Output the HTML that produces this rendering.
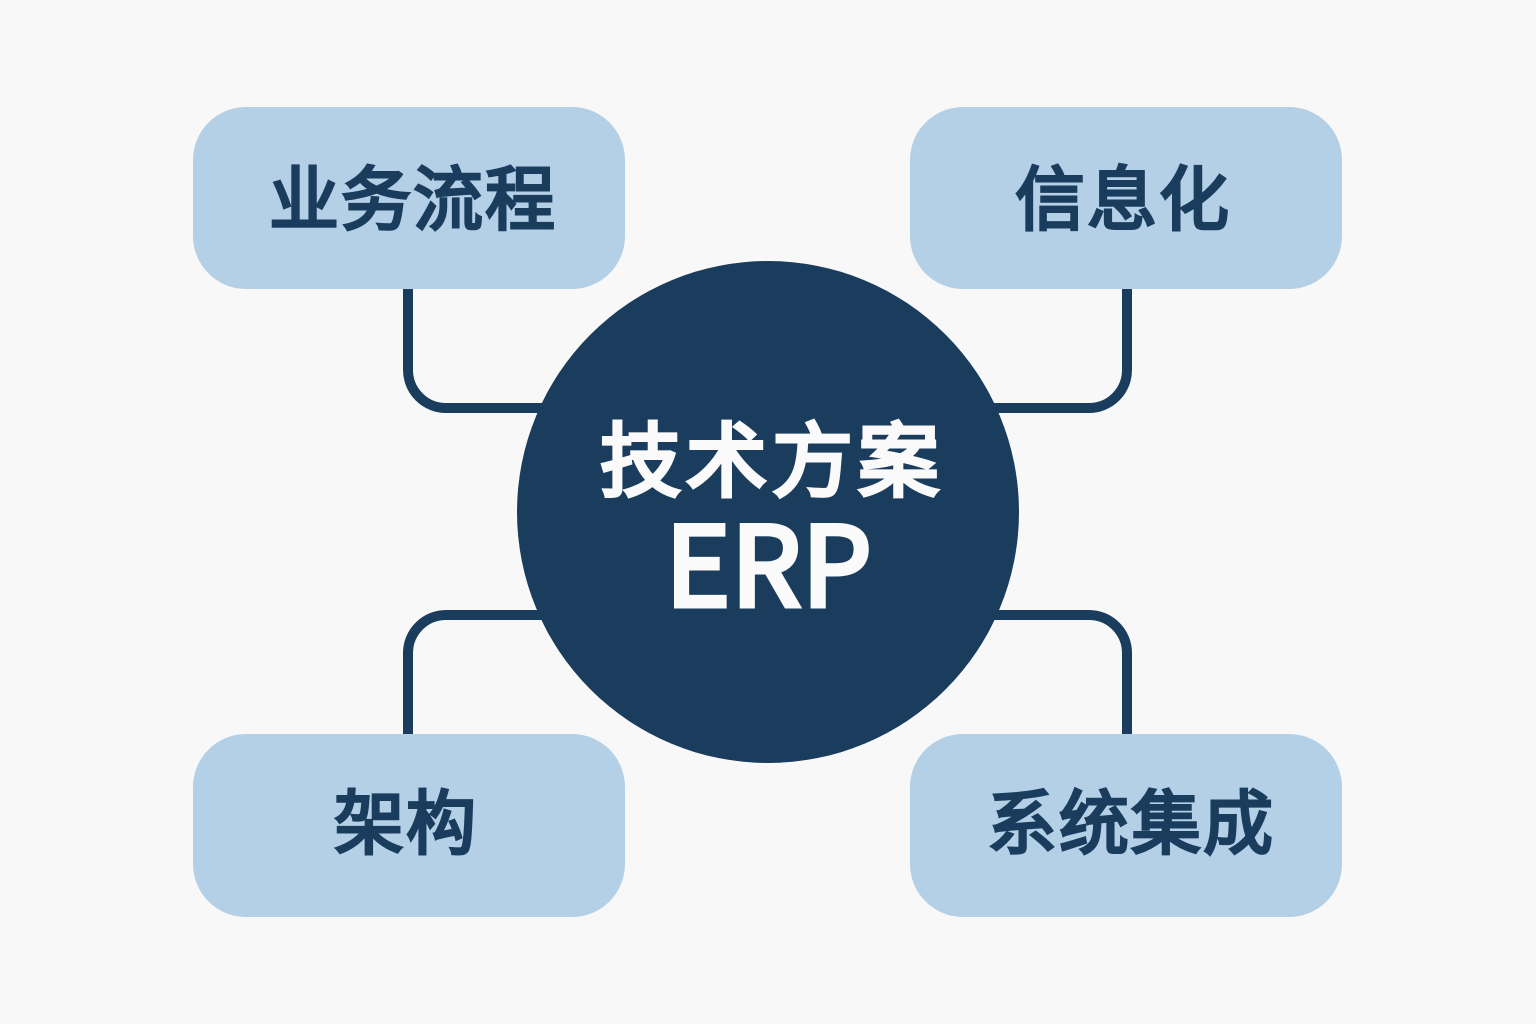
<!DOCTYPE html>
<html lang="zh">
<head>
<meta charset="utf-8">
<title>技术方案 ERP</title>
<style>
html,body{margin:0;padding:0;background:#f8f8f8;}
svg{display:block;}
text{font-family:"Liberation Sans","Noto Sans CJK SC",sans-serif;font-weight:400;text-anchor:middle;stroke-linejoin:miter;}
.n{fill:#1a3c5d;stroke:#1a3c5d;stroke-width:3px;font-size:70px;letter-spacing:2px;}
.c{fill:#fafafa;stroke:#fafafa;stroke-width:4px;font-size:81px;letter-spacing:5px;}
.e{fill:#fafafa;stroke:#fafafa;stroke-width:5px;font-size:110px;letter-spacing:1px;font-family:"Noto Sans CJK SC","Liberation Sans",sans-serif;}
</style>
</head>
<body>
<svg width="1536" height="1024" viewBox="0 0 1536 1024" xmlns="http://www.w3.org/2000/svg">
<rect width="1536" height="1024" fill="#f8f8f8"/>
<g fill="none" stroke="#1a3c5d" stroke-width="10">
<path d="M408 285V370A38 38 0 0 0 446 408H560"/>
<path d="M1127 285V370A38 38 0 0 1 1089 408H980"/>
<path d="M408 738V653A38 38 0 0 1 446 615H560"/>
<path d="M1127 738V653A38 38 0 0 0 1089 615H980"/>
</g>
<g fill="#b4d0e6">
<rect x="193" y="107" width="432" height="182" rx="53"/>
<rect x="910" y="107" width="432" height="182" rx="53"/>
<rect x="193" y="734" width="432" height="183" rx="53"/>
<rect x="910" y="734" width="432" height="183" rx="53"/>
</g>
<circle cx="768" cy="512" r="251" fill="#1a3c5d"/>
<text class="n" x="413" y="224">业务流程</text>
<text class="n" x="1123" y="224">信息化</text>
<text class="n" x="406" y="848">架构</text>
<text class="n" x="1131" y="848">系统集成</text>
<text class="c" x="772" y="490">技术方案</text>
<text class="e" x="769" y="606">ERP</text>
</svg>
</body>
</html>
